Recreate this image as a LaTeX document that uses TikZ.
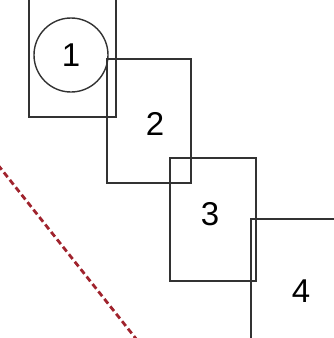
\documentclass[tikz,border=0pt]{standalone}
\usepackage{fontspec}
\setmainfont{Liberation Sans}
\begin{document}
\begin{tikzpicture}[x=1pt,y=-1pt,line width=1.4pt,every node/.style={font=\fontsize{33}{34}\selectfont}]
% overlapping frames, numbered
\clip (0,0) rectangle (334,338);
\definecolor{frame}{RGB}{50,50,50}
\definecolor{cut}{RGB}{160,35,45}
\draw[frame] (29,-5) rectangle (116,117);
\node[draw=frame,circle,minimum size=74pt,inner sep=0pt] (one) at (71,55) {1};
\draw[frame] (107,59) rectangle (191,183); \node (two) at (155,124) {2};
\draw[frame] (170,158) rectangle (256,281); \node (three) at (210,214) {3};
\draw[frame] (345,219) -- (251,219) -- (251,345); \node (four) at (301,291) {4};
\draw[cut,line width=2.8pt,dash pattern=on 6pt off 3.5pt] (-2,165) -- (137,340);
\end{tikzpicture}
\end{document}
